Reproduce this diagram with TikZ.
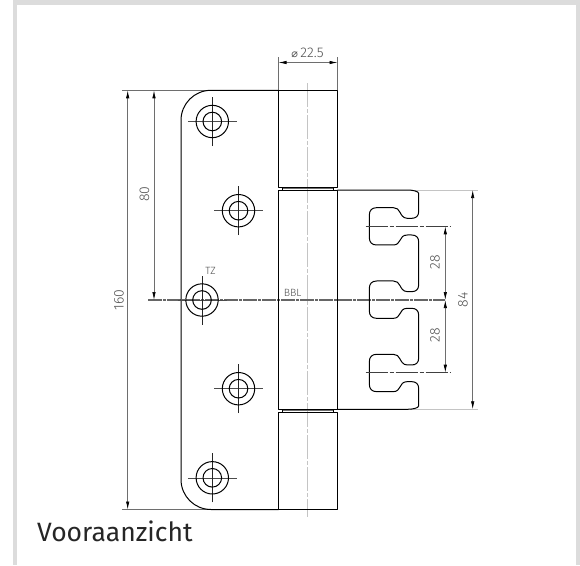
\documentclass[tikz,border=0pt]{standalone}
\usepackage{fontspec}
\setmainfont{Liberation Sans}
\newfontfamily\titlefont{Fira Sans}
\newfontfamily\dimfont{Fira Sans Light}
\newfontfamily\symfont{DejaVu Sans}
\usetikzlibrary{arrows.meta}
\definecolor{bandgrey}{HTML}{DCDCDC}
\definecolor{dimgrey}{HTML}{6E6E6E}
\definecolor{txtgrey}{HTML}{505050}
\definecolor{pingrey}{HTML}{C4C4C4}
\definecolor{axisgrey}{HTML}{666666}
\tikzset{
  part/.style={draw=black,line width=1pt,line join=round},
  dimline/.style={draw=dimgrey,line width=.7pt},
  dimarrow/.style={dimline,{Latex[length=8pt,width=3.4pt,black]}-{Latex[length=8pt,width=3.4pt,black]}},
  dimlabel/.style={text=txtgrey,font=\dimfont\fontsize{14}{16}\selectfont,inner sep=0pt},
  vlabel/.style={dimlabel,rotate=90},
  smalllabel/.style={text=txtgrey,font=\dimfont\fontsize{10.5}{12}\selectfont,inner sep=0pt},
  pinaxis/.style={draw=pingrey,line width=1.1pt,dash pattern=on 24pt off 2pt on 4pt off 2pt},
  mainaxis/.style={draw=axisgrey,line width=1.2pt,dash pattern=on 14pt off 1pt on 3pt off 1pt},
  slotaxis/.style={draw=black!75,line width=.7pt,dash pattern=on 22pt off 2pt on 4pt off 2pt},
}
\newcommand{\screwhole}[2]{%
  \coordinate (c) at (#1,#2);
  \draw[draw=black!70,line width=.6pt] ([xshift=-24.5pt]c) -- ([xshift=24.5pt]c);
  \draw[draw=black!85,line width=.6pt] ([yshift=-24.5pt]c) -- ([yshift=24.5pt]c);
  \draw[part] (c) circle[radius=16.2pt];
  \draw[part] (c) circle[radius=9.3pt];
}
\begin{document}
\begin{tikzpicture}[x=1pt,y=-1pt]
\useasboundingbox (0,0) rectangle (580,565);
\fill[white] (0,0) rectangle (580,565);
% frame
\fill[bandgrey] (13,0) rectangle (580,5);
\fill[bandgrey] (13,0) rectangle (17,565);
\fill[bandgrey] (575.5,0) rectangle (580,565);
% named points
\coordinate (pt) at (211,90.3);
\coordinate (kl) at (278.5,90.3);
\coordinate (kr) at (337.5,90.3);
\coordinate (bt) at (211,509.5);
\coordinate (wt) at (410,190);
\coordinate (wb) at (410,409.3);
% axes
\draw[pinaxis] (307.7,83) -- (307.7,516.5);
\draw[mainaxis] (148,300) -- (445,300);
% extension lines
\draw[dimline] (122,90.3) -- (pt);
\draw[dimline] (122,509.5) -- (bt);
\draw[draw=pingrey,line width=.7pt] (wt) -- (478,190);
\draw[draw=pingrey,line width=.7pt] (wb) -- (478,409.3);
\draw[dimline] (278.5,57) -- (kl);
\draw[dimline] (337.5,57) -- (kr);
% plate
\draw[part] (278.5,90.3) -- (211,90.3) .. controls (194.4,90.3) and (181,103.7) .. (181,120.3) -- (181,479.5) .. controls (181,496.1) and (194.4,509.5) .. (211,509.5) -- (278.5,509.5);
% knuckles
\draw[part] (278.5,90.3) rectangle (337.5,187.4);
\draw[part] (278.5,190) rectangle (337.5,409.3);
\draw[part] (278.5,412.3) rectangle (337.5,509.5);
\draw[draw=dimgrey,line width=.7pt] (282.5,188.7) -- (333.5,188.7);
\draw[draw=dimgrey,line width=.7pt] (282.5,410.8) -- (333.5,410.8);
\draw[black,line width=.7pt] (282.5,187.4) -- (282.5,190) (333.5,187.4) -- (333.5,190);
\draw[black,line width=.7pt] (282.5,409.3) -- (282.5,412.3) (333.5,409.3) -- (333.5,412.3);
% wing
\begin{scope}[shift={(320,170)},x=.3333pt,y=-.3333pt]
\draw[part] (52,60) -- (262,60) .. controls (278,60) and (296,64) .. (296,70)
 -- (296,125) .. controls (296,138) and (288,145) .. (275,145)
 -- (262,145) .. controls (248,145) and (243,132) .. (240,127)
 .. controls (236,118) and (230,113) .. (220,113)
 -- (170,113) .. controls (156,113) and (148,121) .. (148,135)
 -- (148,203) .. controls (148,217) and (156,225) .. (170,225)
 -- (220,225) .. controls (232,225) and (236,218) .. (240,211)
 .. controls (244,203) and (248,195) .. (262,195)
 -- (275,195) .. controls (288,195) and (296,202) .. (296,215)
 -- (296,345) .. controls (296,358) and (288,365) .. (275,365)
 -- (262,365) .. controls (248,365) and (243,352) .. (240,347)
 .. controls (236,338) and (230,333) .. (220,333)
 -- (170,333) .. controls (156,333) and (148,341) .. (148,355)
 -- (148,423) .. controls (148,437) and (156,445) .. (170,445)
 -- (220,445) .. controls (232,445) and (236,438) .. (240,431)
 .. controls (244,423) and (248,415) .. (262,415)
 -- (275,415) .. controls (288,415) and (296,422) .. (296,435)
 -- (296,565) .. controls (296,578) and (288,585) .. (275,585)
 -- (262,585) .. controls (248,585) and (243,572) .. (240,567)
 .. controls (236,558) and (230,553) .. (220,553)
 -- (170,553) .. controls (156,553) and (148,561) .. (148,575)
 -- (148,643) .. controls (148,657) and (156,665) .. (170,665)
 -- (220,665) .. controls (232,665) and (236,658) .. (240,651)
 .. controls (244,643) and (248,635) .. (262,635)
 -- (275,635) .. controls (288,635) and (296,642) .. (296,655)
 -- (296,708) .. controls (296,714) and (278,718) .. (262,718)
 -- (52,718);
\end{scope}
% slot axes
\draw[slotaxis] (365.5,226.3) -- (450,226.3);
\draw[slotaxis] (365.5,372.7) -- (450,372.7);
% holes
\screwhole{212.3}{121.5}
\screwhole{238.5}{210.7}
\screwhole{202}{300}
\screwhole{238.5}{388.7}
\screwhole{212.3}{477.8}
% dimensions
\draw[dimarrow] (127.7,90.3) -- (127.7,509.5);
\draw[dimarrow] (154,90.3) -- (154,300);
\draw[dimarrow] (kl |- 0,62.5) -- (kr |- 0,62.5);
\draw[dimarrow] (472.7,190) -- (472.7,409.3);
\draw[dimarrow] (445.3,226.3) -- (445.3,300);
\draw[dimarrow] (445.3,300) -- (445.3,372.7);
% labels
\node[vlabel] (l160) at (119,300) {160};
\node[vlabel] (l80) at (144.5,194) {80};
\node[vlabel] (l84) at (463,300) {84};
\node[vlabel] (l28a) at (435,262) {28};
\node[vlabel] (l28b) at (435,335) {28};
\node[dimlabel] (ldia) at (307.5,52.5) {{\symfont\fontsize{11}{12}\selectfont ⌀}\,22.5};
\node[smalllabel] (ltz) at (210.6,270.5) {TZ};
\node[smalllabel] (lbbl) at (292.7,293) {BBL};
\node[anchor=base west,inner sep=0pt,text=black!85,font=\titlefont\fontsize{26.5}{30}\selectfont] (title) at (37,541.7) {Vooraanzicht};
\end{tikzpicture}
\end{document}
